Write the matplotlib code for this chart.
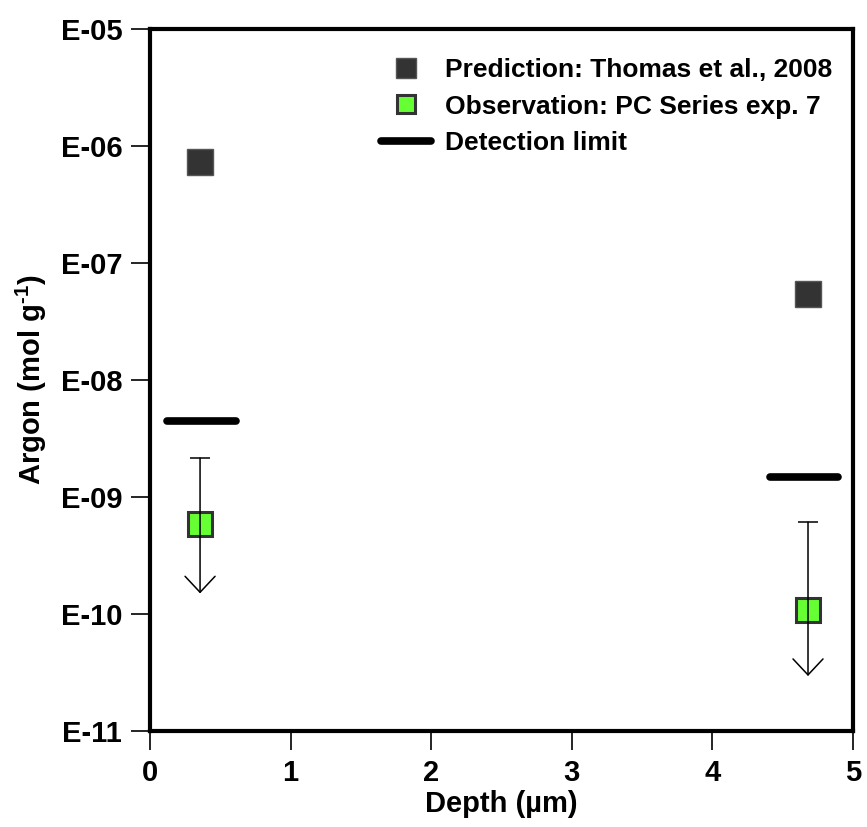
import matplotlib
matplotlib.use("Agg")
import matplotlib.pyplot as plt

plt.rcParams['font.family'] = ['Liberation Sans', 'DejaVu Sans']
plt.rcParams['font.weight'] = 'bold'
plt.rcParams['mathtext.fontset'] = 'custom'
plt.rcParams['mathtext.rm'] = 'Liberation Sans:bold'
plt.rcParams['mathtext.default'] = 'rm'

# Data
depth = [0.356, 4.68]
prediction = [7.3e-7, 5.4e-8]
observation = [5.9e-10, 1.08e-10]
obs_upper = [2.15e-9, 6.1e-10]
obs_arrow_tip = [1.5e-10, 2.95e-11]
det_x_start = [0.12, 4.41]
det_x_end = [0.61, 4.89]
det_limit = [4.5e-9, 1.48e-9]
ytick_vals = [1e-11, 1e-10, 1e-9, 1e-8, 1e-7, 1e-6, 1e-5]
ytick_labels = ['E-11', 'E-10', 'E-09', 'E-08', 'E-07', 'E-06', 'E-05']
xtick_vals = [0, 1, 2, 3, 4, 5]

fig = plt.figure(figsize=(8.67, 8.27), dpi=100)
ax = fig.add_axes([150/867, 1-731/827, (853-150)/867, (731-29)/827])
ax.set_yscale('log')
ax.set_xlim(0, 5)
ax.set_ylim(1e-11, 1e-5)

# Prediction
ax.plot(depth, prediction, 's', ls='none', markersize=19, markerfacecolor='#333333',
        markeredgecolor='#555555', markeredgewidth=1, label='Prediction: Thomas et al., 2008', zorder=3)
# Observation
ax.plot(depth, observation, 's', ls='none', markersize=17.5, markerfacecolor='#66ff33',
        markeredgecolor='#333333', markeredgewidth=2.2, label='Observation: PC Series exp. 7', zorder=3)
# Detection limits
for i in range(len(det_limit)):
    ax.plot([det_x_start[i], det_x_end[i]], [det_limit[i], det_limit[i]], color='black', lw=5.5,
            solid_capstyle='round', label='Detection limit' if i == 0 else None, zorder=3)

# Upper-limit error bars with arrows
for i in range(len(depth)):
    ax.annotate('', xy=(depth[i], obs_arrow_tip[i]), xytext=(depth[i], obs_upper[i]),
                arrowprops=dict(arrowstyle='->,head_length=1.15,head_width=1.08', mutation_scale=10,
                                lw=1.1, color='black', shrinkA=0, shrinkB=0), zorder=4)
    ax.plot([depth[i]], [obs_upper[i]], marker='_', markersize=14, markeredgewidth=1.1,
            color='black', ls='none', zorder=4)

ax.set_yticks(ytick_vals)
ax.set_yticklabels(ytick_labels)
ax.minorticks_off()
ax.set_xticks(xtick_vals)
ax.tick_params(axis='both', which='major', direction='out', length=14, width=1.2, labelsize=21, pad=6)
for s in ax.spines.values():
    s.set_linewidth(3)

ax.set_xlabel('Depth (µm)', fontsize=21, fontweight='bold', labelpad=2)
ax.set_ylabel('Argon (mol g$^{\\text{-1}}$)', fontsize=21, fontweight='bold', labelpad=8)

leg = ax.legend(loc='upper right', bbox_to_anchor=(0.997, 0.985), frameon=False, fontsize=19,
                markerscale=0.75, handlelength=1.9, handletextpad=0.55, labelspacing=0.48,
                borderaxespad=0.3)

fig.savefig('out.png', dpi=100)
